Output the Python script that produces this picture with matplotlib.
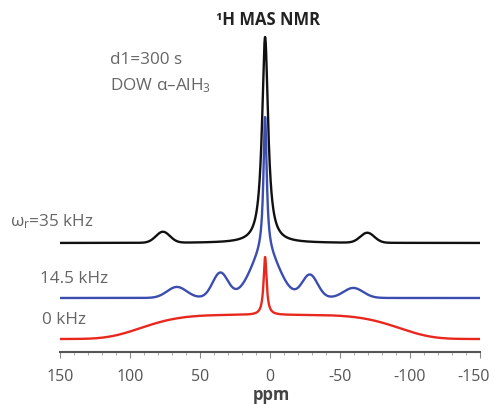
import numpy as np
import matplotlib
matplotlib.use("Agg")
import matplotlib.pyplot as plt
import matplotlib.transforms as mtransforms
from matplotlib.ticker import MultipleLocator

plt.rcParams["font.family"] = ["Open Sans", "DejaVu Sans"]
plt.rcParams["mathtext.default"] = "regular"

# Chemical shift axis (ppm), high to low
ppm = np.linspace(150, -150, 4001)

# Isotropic 1H shift of alpha-AlH3 (ppm)
center = 3.5

# 35 kHz spectrum: centre band + spinning sidebands
black_base = 109.0
black_center_height = 206.0
black_center_hwhm = 2.6
black_sb_pos = [76.5, -69.5]
black_sb_height = [11.0, 10.0]
black_sb_sigma = [5.0, 5.0]

# 14.5 kHz spectrum
blue_base = 54.0
blue_spike_height = 135.0
blue_spike_hwhm = 1.4
blue_broad_height = 46.0
blue_broad_sigma = 10.0
blue_sb_pos = [35.5, -28.5, 66.5, -59.5]
blue_sb_height = [25.0, 23.0, 11.0, 10.0]
blue_sb_sigma = [5.5, 5.5, 7.0, 7.0]

# Static (0 kHz) spectrum: broad powder pattern + narrow line
red_base = 13.0
red_spike_height = 58.0
red_spike_hwhm = 1.3
red_broad_height = 24.0
red_broad_halfwidth = 97.0
red_broad_shape = 5.0

tick_values = [150, 100, 50, 0, -50, -100, -150]


def lorentz(x, x0, h, g):
    return h / (1.0 + ((x - x0) / g) ** 2)


def gauss(x, x0, h, s):
    return h * np.exp(-0.5 * ((x - x0) / s) ** 2)


black = black_base + lorentz(ppm, center, black_center_height, black_center_hwhm)
for p, h, s in zip(black_sb_pos, black_sb_height, black_sb_sigma):
    black += gauss(ppm, p, h, s)

blue = (blue_base
        + lorentz(ppm, center, blue_spike_height, blue_spike_hwhm)
        + gauss(ppm, center, blue_broad_height, blue_broad_sigma))
for p, h, s in zip(blue_sb_pos, blue_sb_height, blue_sb_sigma):
    blue += gauss(ppm, p, h, s)

red = (red_base
       + lorentz(ppm, center, red_spike_height, red_spike_hwhm)
       + red_broad_height * np.exp(-np.abs(ppm / red_broad_halfwidth) ** red_broad_shape))

W, H = 494, 404
fig = plt.figure(figsize=(W / 100, H / 100), dpi=100)
ax = fig.add_axes([60 / W, (H - 352) / H, 420 / W, 322 / H])

ax.plot(ppm, red, color="#e8281e", lw=1.7)
ax.plot(ppm, blue, color="#3b4db0", lw=1.7)
ax.plot(ppm, black, color="#111111", lw=1.7)

ax.set_xlim(150, -150)
ax.set_ylim(0, 322)
for side in ("left", "right", "top"):
    ax.spines[side].set_visible(False)
ax.spines["bottom"].set_color("#555555")
ax.spines["bottom"].set_linewidth(1.5)
ax.set_yticks([])
ax.xaxis.set_minor_locator(MultipleLocator(10))
ax.set_xticks(tick_values)
ax.set_xticklabels([str(v) for v in tick_values])
ax.tick_params(axis="x", which="major", direction="out", length=4, width=0.8,
               color="#888888", labelsize=11.5, labelcolor="#555555", pad=8)
ax.tick_params(axis="x", which="minor", direction="out", length=2.5, width=0.6,
               color="#999999")
ax.patch.set_alpha(0)

# nudge the right-most tick label inward so it stays inside the figure
last = ax.get_xticklabels()[-1]
last.set_transform(last.get_transform() +
                   mtransforms.ScaledTranslation(-6 / 100, 0, fig.dpi_scale_trans))

txt = "#666666"
fig.text(271 / W, 1 - 395 / H, "ppm", ha="center", va="center",
         fontsize=12, fontweight="bold", color="#444444")
fig.text(268 / W, 1 - 20 / H, "¹H MAS NMR", ha="center", va="center",
         fontsize=12, fontweight="bold", color="#222222")
fig.text(110 / W, 1 - 60 / H, "d1=300 s", ha="left", va="center",
         fontsize=12.3, color=txt)
fig.text(110 / W, 1 - 86 / H, "DOW α–AlH$_3$", ha="left", va="center",
         fontsize=12.3, color=txt)
fig.text(10 / W, 1 - 222 / H, "ω$_r$=35 kHz", ha="left", va="center",
         fontsize=12.3, color=txt)
fig.text(40 / W, 1 - 279 / H, "14.5 kHz", ha="left", va="center",
         fontsize=12.3, color=txt)
fig.text(42 / W, 1 - 320 / H, "0 kHz", ha="left", va="center",
         fontsize=12.3, color=txt)

fig.savefig("out.png", dpi=100)
